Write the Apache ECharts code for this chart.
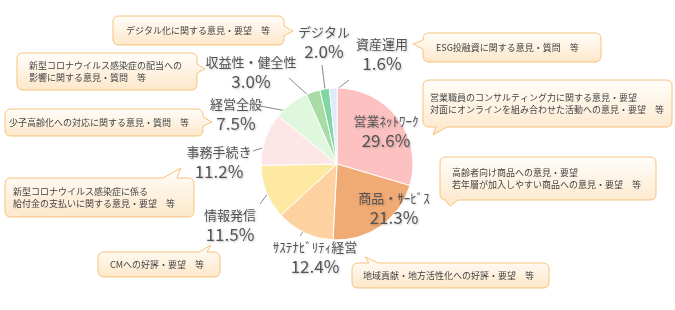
<!DOCTYPE html>
<html><head><meta charset="utf-8">
<script src="https://cdn.jsdelivr.net/npm/echarts@6/dist/echarts.min.js"></script>
<style>html,body{margin:0;padding:0;background:#fff}#c{width:675px;height:310px}</style>
</head><body><div id="c"></div>
<script>
// ---- data ----
var categories = ['営業ﾈｯﾄﾜｰｸ','商品・ｻｰﾋﾞｽ','ｻｽﾃﾅﾋﾞﾘﾃｨ経営','情報発信','事務手続き','経営全般','収益性・健全性','デジタル','資産運用'];
var values = [29.6,21.3,12.4,11.5,11.2,7.5,3.0,2.0,1.6];
var comments = [
  'デジタル化に関する意見・要望　等',
  'ESG投融資に関する意見・質問　等',
  '営業職員のコンサルティング力に関する意見・要望\n対面にオンラインを組み合わせた活動への意見・要望　等',
  '新型コロナウイルス感染症の配当への\n影響に関する意見・質問　等',
  '少子高齢化への対応に関する意見・質問　等',
  '新型コロナウイルス感染症に係る\n給付金の支払いに関する意見・要望　等',
  'CMへの好評・要望　等',
  '高齢者向け商品への意見・要望\n若年層が加入しやすい商品への意見・要望　等',
  '地域貢献・地方活性化への好評・要望　等'
];

// ---- styles / layout ----
var colors = ['#fdc1c1','#f0aa74','#fdd1a0','#fee9a3','#fde6e8','#dff7dc','#a9dba6','#7fd8a4','#dfeafc'];
var CX = 337, CY = 164, R = 76;
// label block center [x, y], line end [x, y], inner factor
var labelPos = [
  [386,132,null,null,0],
  [394,209,null,null,0],
  [315,258,300,236,0.87],
  [230,226,260,204,0.95],
  [219,163,253,151,0.83],
  [236,115,260,106,0.84],
  [251,73,289,78,0.84],
  [324,43,322,65,0.89],
  [382,55,349,80,0.95]
];
// bubble: x, y, w, h, side, base0, base1, tipX, tipY, textPad
var bubbles = [
  [113,16,171,29,'right',26,36,293,31,13],
  [423,33,178,29,'left',40,49,413,44,13],
  [423,80,249,47,'bottom',436,447,433,135,7],
  [17,53,180,37,'right',64,73,205,69,12],
  [5,109,198,27,'right',117,126,212,122,4],
  [5,178,189,39,'top',163,177,181,168,8],
  [98,252,122,25,'top',199,207,211,245,12],
  [440,157,216,43,'bottom',445,458,450,206,12],
  [352,263,197,25,'top',369,378,365,257,11]
];

var total = values.reduce(function(a,b){return a+b;},0);
var midAngles = [];
(function(){var c=0;for(var i=0;i<values.length;i++){midAngles.push((c+values[i]/2)/total*Math.PI*2);c+=values[i];}})();

function bubblePath(b){
  var x=b[0],y=b[1],w=b[2],h=b[3],s=b[4],b0=b[5],b1=b[6],tx=b[7],ty=b[8],r=6;
  var d='M'+(x+r)+' '+y;
  if(s==='top') d+=' L'+b0+' '+y+' L'+tx+' '+ty+' L'+b1+' '+y;
  d+=' L'+(x+w-r)+' '+y+' Q'+(x+w)+' '+y+' '+(x+w)+' '+(y+r);
  if(s==='right') d+=' L'+(x+w)+' '+b0+' L'+tx+' '+ty+' L'+(x+w)+' '+b1;
  d+=' L'+(x+w)+' '+(y+h-r)+' Q'+(x+w)+' '+(y+h)+' '+(x+w-r)+' '+(y+h);
  if(s==='bottom') d+=' L'+b1+' '+(y+h)+' L'+tx+' '+ty+' L'+b0+' '+(y+h);
  d+=' L'+(x+r)+' '+(y+h)+' Q'+x+' '+(y+h)+' '+x+' '+(y+h-r);
  if(s==='left') d+=' L'+x+' '+b1+' L'+tx+' '+ty+' L'+x+' '+b0;
  d+=' L'+x+' '+(y+r)+' Q'+x+' '+y+' '+(x+r)+' '+y+' Z';
  return d;
}

var FONT = '"Noto Sans CJK JP","Noto Sans",sans-serif';
var pieData = categories.map(function(n,i){
  var inside = labelPos[i][2] === null;
  return {name:n, value:values[i], itemStyle:{color:colors[i]},
    label:{position: inside ? 'inside' : 'outside'},
    labelLine:{show: !inside}};
});

var chart = echarts.init(document.getElementById('c'), null, {renderer:'canvas'});
chart.setOption({
  backgroundColor:'#fff',
  animation:false,
  series:[
    {
      type:'pie', center:[CX,CY], radius:[0,R], startAngle:90, clockwise:true,
      avoidLabelOverlap:false, silent:true,
      itemStyle:{borderColor:'#fff', borderWidth:1},
      data: pieData,
      label:{
        show:true, fontFamily:FONT, color:'#555',
        formatter:function(p){return '{n|'+p.name+'}\n{v|'+p.value.toFixed(1)+'%}';},
        rich:{
          n:{fontSize:13, lineHeight:18, color:'#555', fontFamily:FONT, align:'center',
             textShadowColor:'rgba(0,0,0,0.18)', textShadowBlur:2, textShadowOffsetX:1, textShadowOffsetY:1},
          v:{fontSize:17, lineHeight:22, color:'#555', fontFamily:FONT, align:'center',
             textShadowColor:'rgba(0,0,0,0.22)', textShadowBlur:2, textShadowOffsetX:1, textShadowOffsetY:1}
        }
      },
      labelLine:{lineStyle:{color:'#888', width:1}, length:5, length2:5},
      labelLayout:function(p){
        var L = labelPos[p.dataIndex];
        var res = {x:L[0], y:L[1], align:'center', verticalAlign:'middle'};
        if(L[2] !== null){
          var a = midAngles[p.dataIndex], k = L[4];
          var sx = CX + Math.sin(a)*R*k, sy = CY - Math.cos(a)*R*k;
          res.labelLinePoints = [[sx,sy],[(sx+L[2])/2,(sy+L[3])/2],[L[2],L[3]]];
        }
        return res;
      }
    },
    {
      type:'custom', coordinateSystem:'none', silent:true,
      data: comments.map(function(c,i){return i;}),
      renderItem:function(params){
        var i = params.dataIndex, b = bubbles[i];
        return {type:'group', children:[
          {type:'path', shape:{pathData:bubblePath(b)},
           style:{fill:new echarts.graphic.LinearGradient(0,0,0,1,[{offset:0,color:'#fffefb'},{offset:1,color:'#fde7c9'}]),
                  stroke:'#f7c27c', lineWidth:1}},
          {type:'text', style:{text:comments[i], x:b[0]+b[9], y:b[1]+b[3]/2, verticalAlign:'middle', align:'left',
             fill:'#444', fontSize:9, fontFamily:FONT, lineHeight:12.5}}
        ]};
      }
    }
  ]
});
</script>
</body></html>
